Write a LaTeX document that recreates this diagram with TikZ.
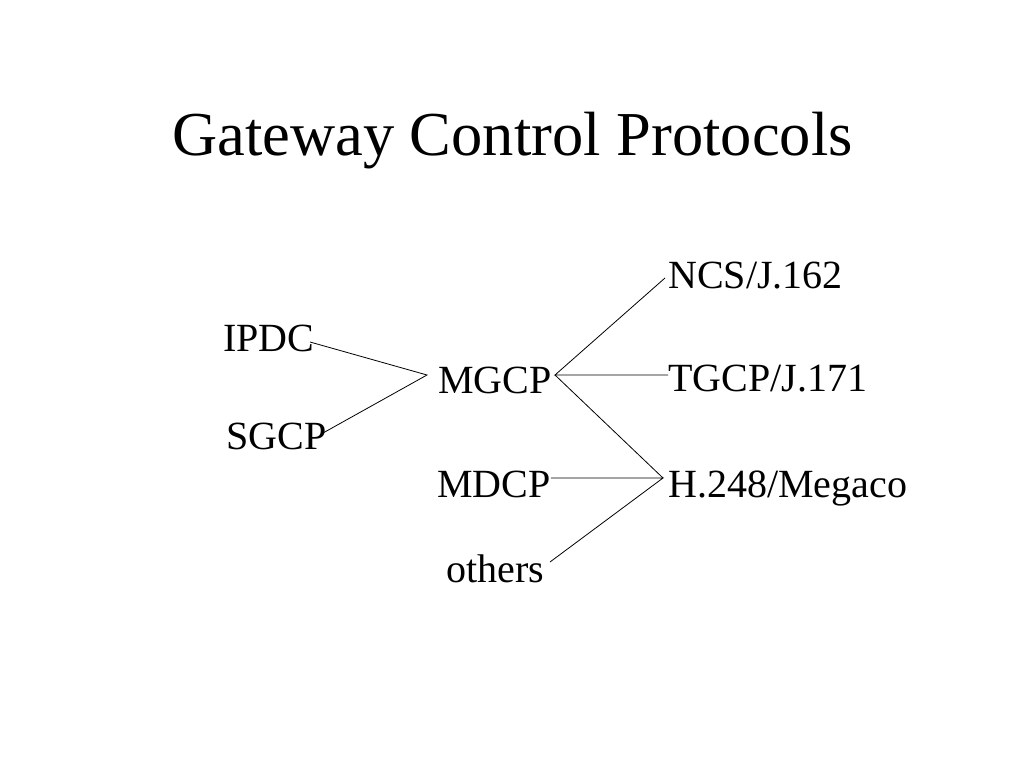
\documentclass[tikz,border=0pt]{standalone}
\usepackage{fontspec}
\setmainfont{Liberation Serif}
\begin{document}
\begin{tikzpicture}[x=1bp,y=-1bp,
  lbl/.style={inner sep=0pt, anchor=base west, font=\fontsize{40bp}{48bp}\selectfont},
  ttl/.style={inner sep=0pt, anchor=base west, font=\fontsize{62.5bp}{72bp}\selectfont},
  link/.style={line width=0.8bp, black}]
\useasboundingbox[fill=white] (0,0) rectangle (1024,768);
\node[ttl] (title) at (172,155) {Gateway Control Protocols};
\node[lbl] (ipdc) at (223,351) {IPDC};
\node[lbl] (sgcp) at (226,449) {SGCP};
\node[lbl] (mgcp) at (438,393) {MGCP};
\node[lbl] (mdcp) at (437,497) {MDCP};
\node[lbl] (others) at (446,582) {others};
\node[lbl] (ncs) at (668,288) {NCS/J.162};
\node[lbl] (tgcp) at (668,391) {TGCP/J.171};
\node[lbl] (h248) at (668,497) {H.248/Megaco};
\coordinate (mL) at (427,375);
\coordinate (mR) at (555,375);
\coordinate (hL) at (663,478);
\coordinate (ipdcE) at (310,342);
\coordinate (sgcpE) at (323,433);
\coordinate (ncsW) at (665,278);
\coordinate (othersE) at (550,562);
\draw[link] (ipdcE) -- (mL) -- (sgcpE);
\draw[link] (ncsW) -- (mR) -- (mR -| tgcp.west);
\draw[link] (mR) -- (hL);
\draw[link] (hL -| mdcp.east) -- (hL) -- (othersE);
\end{tikzpicture}
\end{document}
